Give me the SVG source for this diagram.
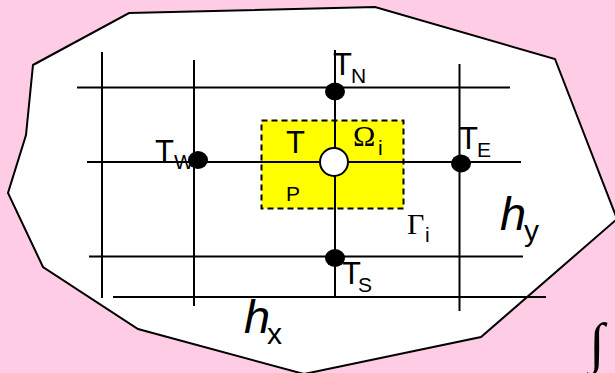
<svg xmlns="http://www.w3.org/2000/svg" width="615" height="373" viewBox="0 0 615 373">
<style>
.g{stroke:#000;stroke-width:2;fill:none}
.d{fill:#000;stroke:none}
text{font-family:"Liberation Sans",Arial,sans-serif;fill:#000}
.t{font-size:31px}
.s{font-size:21px}
.m{font-family:"Liberation Serif","Times New Roman",serif}
.h{font-size:47px;font-style:italic}
.b{font-size:30px}
</style>
<rect width="615" height="373" fill="#ffcce6"/>
<polygon id="domain" points="129,13 375,7 555,59 617,219 481,337 304,374 138,329 43,267 8,193 26,135 33,65" fill="#fff" stroke="#000" stroke-width="2"/>
<g id="cell"><rect x="261.500" y="120.500" width="142" height="88" fill="#ff0" stroke="#000" stroke-width="2" stroke-dasharray="6 4"/></g>
<g id="connectors">
<line class="g" x1="102" y1="52" x2="102" y2="298"/>
<line class="g" x1="194" y1="60" x2="194" y2="306"/>
<line class="g" x1="335" y1="50" x2="335" y2="297"/>
<line class="g" x1="459.500" y1="64" x2="459.500" y2="311"/>
<line class="g" x1="77" y1="87.500" x2="510" y2="87.500"/>
<line class="g" x1="87" y1="162" x2="521" y2="162"/>
<line class="g" x1="89" y1="256.500" x2="523" y2="256.500"/>
<line class="g" x1="113" y1="297" x2="546" y2="297"/>
</g>
<g id="node-n"><ellipse class="d" cx="335" cy="91.500" rx="10" ry="9"/><text class="t" x="333" y="75">T</text><text class="s" x="351" y="83">N</text></g>
<g id="node-w"><ellipse class="d" cx="198" cy="160" rx="10" ry="9"/><text class="t" x="155" y="162">T</text><text class="s" x="174" y="169">W</text></g>
<g id="node-e"><ellipse class="d" cx="461" cy="163.500" rx="10" ry="9"/><text class="t" x="459" y="149">T</text><text class="s" x="477" y="157">E</text></g>
<g id="node-s"><ellipse class="d" cx="335" cy="258" rx="10" ry="9"/><text class="t" x="342" y="284">T</text><text class="s" x="358" y="292">S</text></g>
<g id="node-p"><ellipse cx="334" cy="162" rx="14" ry="14" fill="#fff" stroke="#000" stroke-width="2"/><text class="t" x="286" y="153">T</text><text class="s" x="286" y="201">P</text></g>
<g id="labels">
<text class="m" x="353" y="146" font-size="30">Ω</text><text class="s" x="378" y="155">i</text>
<text class="m" x="407" y="234" font-size="30">Γ</text><text class="s" x="425" y="242">i</text>
<text class="h" x="500" y="230">h</text><text class="b" x="524" y="241">y</text>
<text class="h" x="244" y="333">h</text><text class="b" x="267" y="344">x</text>
<text class="m" x="589" y="362" font-size="56" font-weight="bold">∫</text>
</g>
</svg>
